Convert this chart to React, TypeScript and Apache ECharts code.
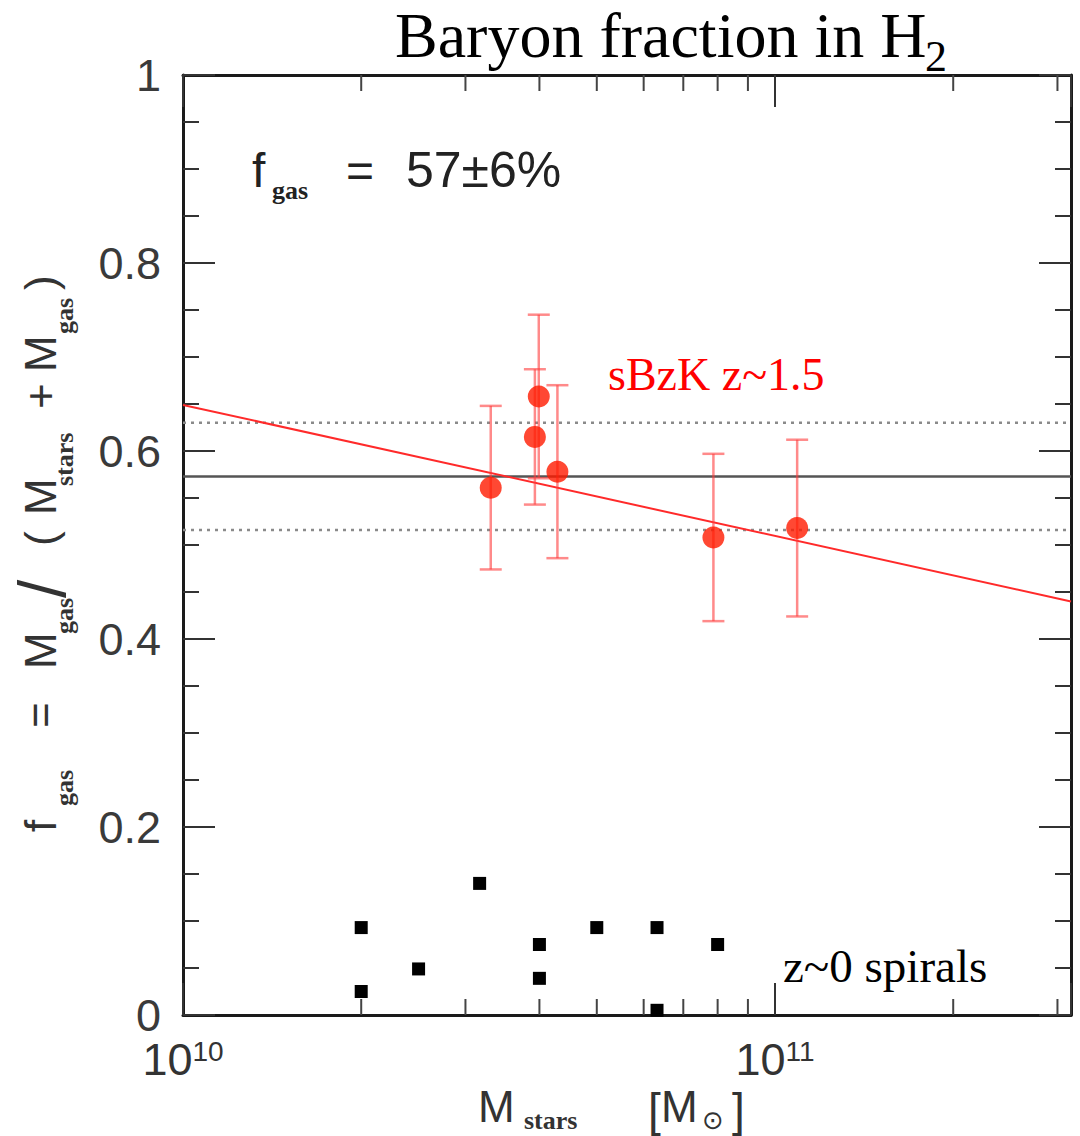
import React, { useEffect, useRef } from "react";
import * as echarts from "echarts";

// ---- data ----
const sbzkMass = [3.31e10, 3.99e10, 3.93e10, 4.29e10, 7.87e10, 1.09e11];
const sbzkFgas = [0.561, 0.658, 0.615, 0.578, 0.508, 0.518];
const sbzkErr = [0.087, 0.087, 0.072, 0.092, 0.089, 0.094];

const spiralMass = [2e10, 2e10, 2.5e10, 3.17e10, 4e10, 4e10, 5e10, 6.32e10, 6.32e10, 8e10];
const spiralFgas = [0.093, 0.025, 0.049, 0.140, 0.075, 0.039, 0.093, 0.093, 0.005, 0.075];

const fitMass = [1e10, 3.1623e11];
const fitFgas = [0.649, 0.440];

const meanFgas = 0.573;
const meanLow = 0.516;
const meanHigh = 0.630;

const xMin = 1e10;
const xMax = 3.1623e11;
const minorTickMass = [2e10, 3e10, 4e10, 5e10, 6e10, 7e10, 8e10, 9e10, 2e11, 3e11];
const yTicks = [0, 0.2, 0.4, 0.6, 0.8, 1];

// ---- text layout pieces ----
const yTitlePieces = [
  { t: "f", y: 832, sub: false },
  { t: "gas", y: 806, sub: true },
  { t: "=", y: 728, sub: false },
  { t: "M", y: 669, sub: false },
  { t: "gas", y: 634, sub: true },
  { t: "/", y: 598, sub: false, big: true },
  { t: "(", y: 546, sub: false },
  { t: "M", y: 515, sub: false },
  { t: "stars", y: 486, sub: true },
  { t: "+", y: 409, sub: false },
  { t: "M", y: 372, sub: false },
  { t: "gas", y: 334, sub: true },
  { t: ")", y: 290, sub: false },
];

const xTitlePieces = [
  { t: "M", x: 478, sub: false },
  { t: "stars", x: 524, sub: true },
  { t: "[", x: 648, sub: false },
  { t: "M", x: 661, sub: false },
  { t: "\u2299", x: 702, sub: true },
  { t: "]", x: 732, sub: false },
];

const SANS = "'Liberation Sans', Arial, sans-serif";
const SERIF = "'Liberation Serif', 'Times New Roman', serif";

export default function App() {
  const ref = useRef<HTMLDivElement>(null);

  useEffect(() => {
    document.body.style.margin = "0";
    if (!ref.current) return;
    const chart = echarts.init(ref.current, undefined, { renderer: "svg" });

    const tickStyle = { color: "#333", width: 2 };
    const axisLine = { show: true, onZero: false, lineStyle: { color: "#1a1a1a", width: 3 } };

    const graphics: any[] = [];
    graphics.push({
      type: "text",
      x: 395,
      y: 35,
      style: { text: "Baryon fraction in H", font: `64px ${SERIF}`, fill: "#000", align: "left", verticalAlign: "middle" },
    });
    graphics.push({
      type: "text",
      x: 925,
      y: 56,
      style: { text: "2", font: `44px ${SERIF}`, fill: "#000", align: "left", verticalAlign: "middle" },
    });
    // f_gas = 57±6%
    graphics.push({ type: "text", x: 252, y: 170, style: { text: "f", font: `48px ${SANS}`, fill: "#222", align: "left", verticalAlign: "middle" } });
    graphics.push({ type: "text", x: 272, y: 190, style: { text: "gas", font: `bold 26px ${SERIF}`, fill: "#222", align: "left", verticalAlign: "middle" } });
    graphics.push({ type: "text", x: 346, y: 170, style: { text: "=", font: `48px ${SANS}`, fill: "#222", align: "left", verticalAlign: "middle" } });
    graphics.push({ type: "text", x: 406, y: 170, style: { text: "57\u00b16%", font: `50px ${SANS}`, fill: "#222", align: "left", verticalAlign: "middle" } });
    // annotations
    graphics.push({ type: "text", x: 608, y: 374, style: { text: "sBzK z~1.5", font: `46px ${SERIF}`, fill: "#ff0000", align: "left", verticalAlign: "middle" } });
    graphics.push({ type: "text", x: 783, y: 966, style: { text: "z~0 spirals", font: `47px ${SERIF}`, fill: "#000", align: "left", verticalAlign: "middle" } });

    // y-axis title (rotated)
    yTitlePieces.forEach((p: any) => {
      graphics.push({
        type: "text",
        x: p.sub ? 64 : p.big ? 42 : 40,
        y: p.y,
        rotation: Math.PI / 2,
        style: {
          text: p.t,
          font: p.sub ? `bold 26px ${SERIF}` : p.big ? `66px ${SANS}` : `44px ${SANS}`,
          fill: "#333",
          align: "left",
          verticalAlign: "middle",
        },
      });
    });
    // x-axis title
    xTitlePieces.forEach((p: any) => {
      const bracket = p.t === "[" || p.t === "]";
      graphics.push({
        type: "text",
        x: p.x,
        y: p.sub ? 1120 : bracket ? 1110 : 1106,
        style: {
          text: p.t,
          font: p.sub ? (p.t === "stars" ? `bold 26px ${SERIF}` : `26px 'DejaVu Sans', sans-serif`) : bracket ? `46px ${SANS}` : `44px ${SANS}`,
          fill: "#333",
          align: "left",
          verticalAlign: "middle",
        },
      });
    });

    const hline = (v: number) => [
      [xMin, v],
      [xMax, v],
    ];

    const option: any = {
      animation: false,
      backgroundColor: "#fff",
      grid: { left: 183, top: 75, width: 888, height: 940, containLabel: false },
      xAxis: [
        {
          type: "log",
          logBase: 10,
          min: xMin,
          max: xMax,
          position: "bottom",
          axisLine,
          axisTick: { show: true, inside: true, length: 32, lineStyle: tickStyle },
          splitLine: { show: false },
          axisLabel: {
            margin: 22,
            formatter: (v: number) => {
              const e = Math.log10(v);
              if (Math.abs(e - Math.round(e)) > 1e-6) return "";
              return `{b|10}{s|${Math.round(e)}}`;
            },
            rich: {
              b: { fontSize: 45, fontFamily: SANS, color: "#333", lineHeight: 45, padding: [12, 0, 0, 0], verticalAlign: "bottom" },
              s: { fontSize: 28, fontFamily: SANS, color: "#333", lineHeight: 28, verticalAlign: "top" },
            },
          },
        },
        {
          type: "log",
          logBase: 10,
          min: xMin,
          max: xMax,
          position: "top",
          axisLine,
          axisTick: { show: true, inside: true, length: 32, lineStyle: tickStyle },
          axisLabel: { show: false },
          splitLine: { show: false },
        },
      ],
      yAxis: [
        {
          type: "value",
          min: 0,
          max: 1,
          interval: 0.2,
          position: "left",
          axisLine,
          axisTick: { show: true, inside: true, length: 32, lineStyle: tickStyle },
          minorTick: { show: true, splitNumber: 4, length: 16, lineStyle: tickStyle },
          splitLine: { show: false },
          axisLabel: {
            margin: 22,
            fontSize: 45,
            fontFamily: SANS,
            color: "#3a3a3a",
            formatter: (v: number) => {
              const t = yTicks.find((k) => Math.abs(k - v) < 1e-6);
              if (t === undefined) return "";
              return t === 0 ? "0" : t === 1 ? "1" : t.toFixed(1);
            },
          },
        },
        {
          type: "value",
          min: 0,
          max: 1,
          interval: 0.2,
          position: "right",
          axisLine,
          axisTick: { show: true, inside: true, length: 32, lineStyle: tickStyle },
          minorTick: { show: true, splitNumber: 4, length: 16, lineStyle: tickStyle },
          splitLine: { show: false },
          axisLabel: { show: false },
        },
      ],
      series: [
        {
          type: "custom",
          name: "minorTicks",
          xAxisIndex: 0,
          yAxisIndex: 0,
          silent: true,
          data: minorTickMass.map((m) => [m, 0]),
          encode: { x: 0, y: 1 },
          renderItem: (params: any, api: any) => {
            const m = api.value(0);
            const b = api.coord([m, 0]);
            const t = api.coord([m, 1]);
            const st = { stroke: "#444", lineWidth: 2 };
            return {
              type: "group",
              children: [
                { type: "line", shape: { x1: b[0], y1: b[1], x2: b[0], y2: b[1] - 16 }, style: st },
                { type: "line", shape: { x1: t[0], y1: t[1], x2: t[0], y2: t[1] + 16 }, style: st },
              ],
            };
          },
          z: 1,
        },
        {
          type: "line",
          name: "high",
          data: hline(meanHigh),
          symbol: "none",
          lineStyle: { color: "#8a8a8a", width: 2.5, type: [3, 5] },
          z: 2,
        },
        {
          type: "line",
          name: "low",
          data: hline(meanLow),
          symbol: "none",
          lineStyle: { color: "#8a8a8a", width: 2.5, type: [3, 5] },
          z: 2,
        },
        {
          type: "line",
          name: "mean",
          data: hline(meanFgas),
          symbol: "none",
          lineStyle: { color: "#555", width: 2.5 },
          z: 3,
        },
        {
          type: "line",
          name: "fit",
          data: fitMass.map((m, i) => [m, fitFgas[i]]),
          symbol: "none",
          lineStyle: { color: "#ff2a2a", width: 2 },
          z: 4,
        },
        {
          type: "custom",
          name: "errors",
          data: sbzkMass.map((m, i) => [m, sbzkFgas[i] - sbzkErr[i], sbzkFgas[i] + sbzkErr[i]]),
          encode: { x: 0, y: [1, 2] },
          renderItem: (params: any, api: any) => {
            const m = api.value(0);
            const lo = api.coord([m, api.value(1)]);
            const hi = api.coord([m, api.value(2)]);
            const st = { stroke: "rgba(255,60,60,0.6)", lineWidth: 2.5 };
            const w = 11;
            return {
              type: "group",
              children: [
                { type: "line", shape: { x1: lo[0], y1: lo[1], x2: hi[0], y2: hi[1] }, style: st },
                { type: "line", shape: { x1: lo[0] - w, y1: lo[1], x2: lo[0] + w, y2: lo[1] }, style: st },
                { type: "line", shape: { x1: hi[0] - w, y1: hi[1], x2: hi[0] + w, y2: hi[1] }, style: st },
              ],
            };
          },
          z: 5,
        },
        {
          type: "scatter",
          name: "sBzK",
          data: sbzkMass.map((m, i) => [m, sbzkFgas[i]]),
          symbol: "circle",
          symbolSize: 22,
          itemStyle: { color: "#ff1a00" },
          z: 6,
        },
        {
          type: "scatter",
          name: "spirals",
          data: spiralMass.map((m, i) => [m, spiralFgas[i]]),
          symbol: "rect",
          symbolSize: 13,
          itemStyle: { color: "#000", opacity: 1 },
          z: 6,
        },
      ],
      graphic: graphics,
    };

    chart.setOption(option);
    return () => chart.dispose();
  }, []);

  return <div ref={ref} style={{ width: 1080, height: 1136 }} />;
}
